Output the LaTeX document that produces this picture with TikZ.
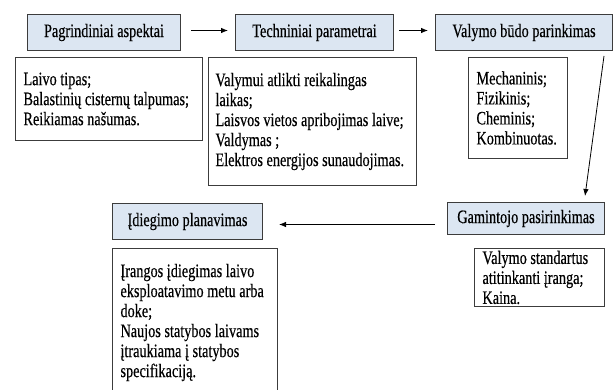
\documentclass[tikz,border=0pt]{standalone}
\usepackage{fontspec}
\setmainfont{Liberation Serif}[FakeStretch=0.75,FakeBold=0.4]
\usepackage{tikz}
\usetikzlibrary{arrows.meta,calc}

\definecolor{hdrfill}{RGB}{220,230,242}
\definecolor{boxline}{RGB}{60,60,60}
\hyphenpenalty=10000

\tikzset{
  hdr/.style={draw=boxline, line width=1pt, fill=hdrfill, anchor=north west, inner sep=0pt,
    font=\fontsize{19}{20}\selectfont},
  txtbox/.style={draw=boxline, line width=1pt, fill=white, anchor=north west, inner xsep=8pt,
    inner ysep=0pt, align=left, font=\fontsize{19}{20}\selectfont,
    execute at begin node={\spaceskip=3.6pt plus 1pt minus 0.5pt\relax}},
  conn/.style={draw=black, line width=0.8pt, -{Latex[length=7pt,width=5.5pt]}}
}

\begin{document}
\begin{tikzpicture}[x=1pt,y=1pt,yscale=-1]
\clip (0,0) rectangle (614,390); %page is 614 x 390

\node [hdr, minimum width=153, minimum height=36] (aspektai) at (27,14) {Pagrindiniai aspektai};
\node [txtbox, text width=171, minimum height=83] (aspektaiTxt) at (15,57) {Laivo tipas;\\ Balastinių cisternų talpumas;\\ Reikiamas našumas.};

\node [hdr, minimum width=158, minimum height=36] (parametrai) at (235,14) {Techniniai parametrai};
\node [txtbox, inner xsep=7pt, text width=194, minimum height=128] (parametraiTxt) at (208,57) {Valymui atlikti reikalingas\\ laikas;\\ Laisvos vietos apribojimas laive;\\ Valdymas ;\\ Elektros energijos sunaudojimas.};

\node [hdr, minimum width=177, minimum height=36] (budas) at (435,14) {Valymo būdo parinkimas};
\node [txtbox, text width=83, minimum height=101] (budasTxt) at (468,57) {Mechaninis;\\ Fizikinis;\\ Cheminis;\\ Kombinuotas.};

\node [hdr, minimum width=157, minimum height=32] (gamintojas) at (447,202) {Gamintojo pasirinkimas};
\node [txtbox, text width=114, minimum height=58] (gamintojasTxt) at (474,248) {Valymo standartus\\ atitinkanti įranga;\\ Kaina.};

\node [hdr, minimum width=150, minimum height=36] (diegimas) at (112,203) {Įdiegimo planavimas};
\node [txtbox, text width=149, minimum height=148] (diegimasTxt) at (112,248) {Įrangos įdiegimas laivo\\ eksploatavimo metu arba\\ doke;\\ Naujos statybos laivams\\ įtraukiama į statybos\\ specifikaciją.};

\draw [conn] ($(aspektai.east)+(10,-2)$) -- ($(parametrai.west)+(-7,-2)$);
\draw [conn] ($(parametrai.east)+(5,-2)$) -- ($(budas.west)+(-7,-2)$);
\draw [conn] ($(budas.south east)+(-9,5)$) -- ($(gamintojas.north east)+(-20,-6)$);
\draw [conn] ($(gamintojas.west)+(-12,6)$) -- ($(diegimas.east)+(16,3)$);

\end{tikzpicture}
\end{document}
